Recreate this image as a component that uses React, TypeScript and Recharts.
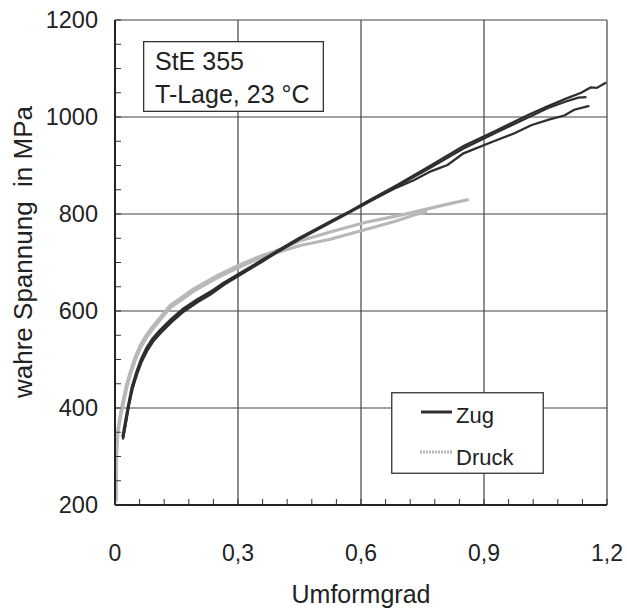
import React from 'react';
import { LineChart, Line, XAxis, YAxis, CartesianGrid, Legend, Label } from 'recharts';

// ---- axis ticks ----
const xTicks = [0, 0.06, 0.12, 0.18, 0.24, 0.3, 0.36, 0.42, 0.48, 0.54, 0.6, 0.66, 0.72, 0.78, 0.84, 0.9, 0.96, 1.02, 1.08, 1.14, 1.2];
const xMajor = [0, 0.3, 0.6, 0.9, 1.2];
const xMajorLabels = ['0', '0,3', '0,6', '0,9', '1,2'];
const yTicks = [200, 250, 300, 350, 400, 450, 500, 550, 600, 650, 700, 750, 800, 850, 900, 950, 1000, 1050, 1100, 1150, 1200];
const yMajor = [200, 400, 600, 800, 1000, 1200];
const gridX = [0.3, 0.6, 0.9, 1.2];
const gridY = [400, 600, 800, 1000, 1200];

// ---- Zug (tension), three specimens ----
const zug1Strain = [0.019, 0.025, 0.033, 0.042, 0.053, 0.064, 0.077, 0.092, 0.110, 0.137, 0.167, 0.200, 0.232, 0.265, 0.301, 0.362, 0.390, 0.450, 0.530, 0.574, 0.607, 0.688, 0.770, 0.850, 0.930, 1.010, 1.055, 1.100, 1.137, 1.160, 1.175, 1.198];
const zug1Stress = [335, 362, 403, 440, 471, 497, 520, 540, 557, 580, 602, 620, 636, 656, 674, 705, 720, 750, 787, 806, 822, 860, 900, 940, 972, 1005, 1022, 1038, 1050, 1061, 1060, 1071];
const zug2Strain = [0.020, 0.026, 0.034, 0.043, 0.054, 0.065, 0.078, 0.093, 0.111, 0.138, 0.168, 0.201, 0.233, 0.266, 0.301, 0.362, 0.390, 0.450, 0.530, 0.607, 0.688, 0.770, 0.850, 0.930, 1.010, 1.060, 1.100, 1.130, 1.150];
const zug2Stress = [338, 366, 405, 440, 470, 495, 517, 537, 554, 577, 599, 618, 634, 654, 672, 703, 718, 748, 784, 819, 857, 896, 935, 968, 1000, 1020, 1032, 1040, 1041];
const zug3Strain = [0.018, 0.024, 0.032, 0.041, 0.052, 0.063, 0.076, 0.091, 0.109, 0.136, 0.166, 0.199, 0.231, 0.264, 0.300, 0.362, 0.390, 0.450, 0.530, 0.607, 0.688, 0.730, 0.770, 0.811, 0.850, 0.930, 0.973, 1.015, 1.060, 1.096, 1.120, 1.157];
const zug3Stress = [340, 369, 406, 444, 474, 500, 523, 543, 560, 583, 605, 623, 639, 658, 676, 707, 721, 751, 786, 820, 855, 870, 888, 901, 925, 952, 966, 983, 995, 1003, 1015, 1023];

// ---- Druck (compression), two specimens ----
const druck1Strain = [0.002, 0.003, 0.005, 0.012, 0.020, 0.028, 0.037, 0.048, 0.061, 0.077, 0.094, 0.134, 0.191, 0.249, 0.301, 0.354, 0.390, 0.452, 0.525, 0.607, 0.688, 0.770, 0.820, 0.863];
const druck1Stress = [205, 300, 345, 382, 416, 447, 474, 502, 528, 551, 570, 611, 645, 673, 694, 713, 723, 745, 763, 782, 796, 812, 822, 830];
const druck2Strain = [0.003, 0.004, 0.007, 0.013, 0.021, 0.029, 0.038, 0.049, 0.062, 0.078, 0.095, 0.135, 0.192, 0.250, 0.302, 0.355, 0.390, 0.452, 0.525, 0.607, 0.688, 0.729, 0.761];
const druck2Stress = [210, 305, 348, 380, 412, 443, 470, 498, 524, 547, 566, 607, 641, 669, 690, 710, 719, 735, 748, 767, 786, 798, 805];

const toPoints = (xs: number[], ys: number[]) => xs.map((x, i) => ({ x, y: ys[i] }));
const zug1 = toPoints(zug1Strain, zug1Stress);
const zug2 = toPoints(zug2Strain, zug2Stress);
const zug3 = toPoints(zug3Strain, zug3Stress);
const druck1 = toPoints(druck1Strain, druck1Stress);
const druck2 = toPoints(druck2Strain, druck2Stress);

const FONT = '"Liberation Sans", Arial, Helvetica, sans-serif';
const TEXT = '#222';
const ZUG = '#2e2e2e';
const DRUCK = '#b8b8b8';

const XTick = (props: any) => {
  const { x, y, payload } = props;
  const idx = xMajor.findIndex((v) => Math.abs(v - payload.value) < 1e-6);
  return (
    <g>
      <line x1={x} x2={x} y1={y} y2={y - 6} stroke="#333" strokeWidth={1} />
      {idx >= 0 && (
        <text x={x} y={y + 56} textAnchor="middle" fontSize={23} fontFamily={FONT} fill={TEXT}>
          {xMajorLabels[idx]}
        </text>
      )}
    </g>
  );
};

const YTick = (props: any) => {
  const { x, y, payload } = props;
  const major = yMajor.includes(payload.value);
  return (
    <g>
      <line x1={x} x2={x + 6} y1={y} y2={y} stroke="#333" strokeWidth={1} />
      {major && (
        <text x={x - 17} y={y} dy="0.36em" textAnchor="end" fontSize={23.5} fontFamily={FONT} fill={TEXT}>
          {payload.value}
        </text>
      )}
    </g>
  );
};

const renderLegend = () => (
  <svg width={153} height={82} style={{ display: 'block' }}>
    <rect x={0.75} y={0.75} width={151.5} height={80.5} fill="#fff" stroke="#333" strokeWidth={1.3} />
    <line x1={30} x2={61} y1={20} y2={20} stroke={ZUG} strokeWidth={3} />
    <text x={65} y={31} fontSize={22} fontFamily={FONT} fill={TEXT}>Zug</text>
    <line x1={29} x2={61} y1={60} y2={60} stroke={DRUCK} strokeWidth={3} strokeDasharray="2 1" />
    <text x={65} y={73} fontSize={22} fontFamily={FONT} fill={TEXT}>Druck</text>
  </svg>
);

export default function App() {
  return (
    <div style={{ position: 'absolute', left: 0, top: 0, width: 627, height: 609, background: '#fff' }}>
      <LineChart width={627} height={609} margin={{ top: 20, right: 20, bottom: 0, left: 0 }}>
        <CartesianGrid
          horizontal
          vertical
          horizontalValues={gridY}
          verticalValues={gridX}
          stroke="#444"
          strokeWidth={1.2}
        />
        <XAxis
          type="number"
          dataKey="x"
          domain={[0, 1.2]}
          ticks={xTicks}
          interval={0}
          height={104}
          tickSize={0}
          tickMargin={0}
          tickLine={false}
          tick={<XTick />}
          axisLine={{ stroke: '#222', strokeWidth: 2 }}
          allowDataOverflow
        >
          <Label
            content={(p: any) => {
              const vb = p.viewBox;
              return (
                <text x={vb.x + vb.width / 2} y={vb.y + 98} textAnchor="middle" fontSize={25} fontFamily={FONT} fill={TEXT}>
                  Umformgrad
                </text>
              );
            }}
          />
        </XAxis>
        <YAxis
          type="number"
          domain={[200, 1200]}
          ticks={yTicks}
          interval={0}
          width={115}
          tickSize={0}
          tickMargin={0}
          tickLine={false}
          tick={<YTick />}
          axisLine={{ stroke: '#222', strokeWidth: 2 }}
          allowDataOverflow
        >
          <Label
            content={(p: any) => {
              const vb = p.viewBox;
              const cx = vb.x + 32;
              const cy = vb.y + 232;
              return (
                <text
                  x={cx}
                  y={cy}
                  textAnchor="middle"
                  fontSize={26}
                  fontFamily={FONT}
                  fill={TEXT}
                  transform={`rotate(-90 ${cx} ${cy})`}
                  style={{ whiteSpace: 'pre' }}
                >
                  {'wahre Spannung  in MPa'}
                </text>
              );
            }}
          />
        </YAxis>
        <Legend
          content={renderLegend}
          layout="horizontal"
          verticalAlign="middle"
          align="center"
          wrapperStyle={{ position: 'absolute', left: 391, top: 392, width: 153, height: 82 }}
        />
        <Line data={druck2} dataKey="y" name="Druck2" stroke={DRUCK} strokeWidth={3.2} dot={false} isAnimationActive={false} legendType="none" />
        <Line data={druck1} dataKey="y" name="Druck" stroke={DRUCK} strokeWidth={3.2} dot={false} isAnimationActive={false} />
        <Line data={zug3} dataKey="y" name="Zug3" stroke={ZUG} strokeWidth={2.3} dot={false} isAnimationActive={false} legendType="none" />
        <Line data={zug2} dataKey="y" name="Zug2" stroke={ZUG} strokeWidth={2.3} dot={false} isAnimationActive={false} legendType="none" />
        <Line data={zug1} dataKey="y" name="Zug" stroke={ZUG} strokeWidth={2.3} dot={false} isAnimationActive={false} />
      </LineChart>
      <svg width={181} height={71} style={{ position: 'absolute', left: 143, top: 41 }}>
        <rect x={0.65} y={0.65} width={179.7} height={69.7} fill="#fff" stroke="#333" strokeWidth={1.3} />
        <text x={12} y={29} fontSize={25} fontFamily={FONT} fill={TEXT}>StE 355</text>
        <text x={12} y={62} fontSize={25} fontFamily={FONT} fill={TEXT}>T-Lage, 23 °C</text>
      </svg>
    </div>
  );
}
